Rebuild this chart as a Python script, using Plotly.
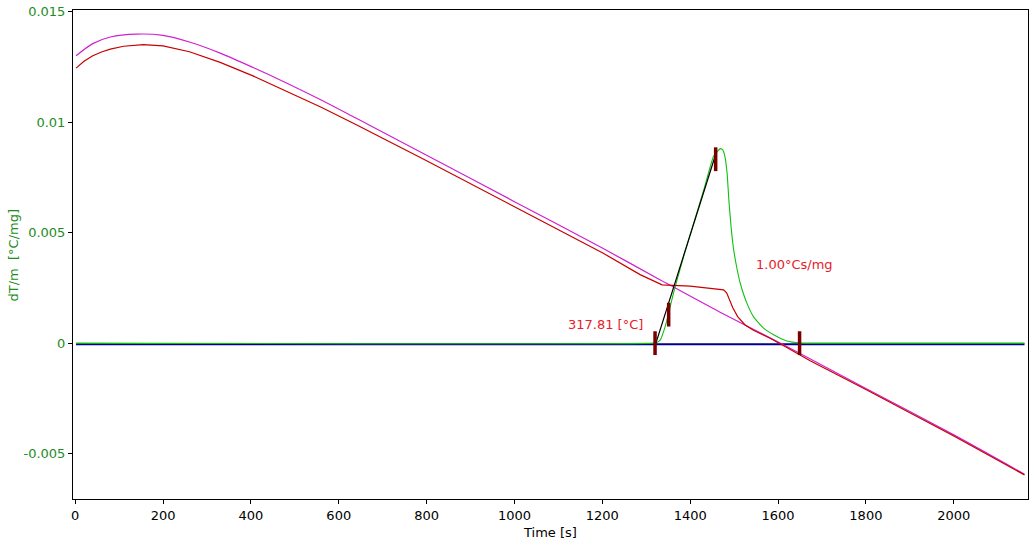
import plotly.graph_objects as go

# ---- data ----
ref_t = [2, 40, 80, 140, 200, 260, 330, 406, 482, 560, 640, 800, 1000, 1200, 1332, 1468, 1620, 1800, 2000, 2161]
ref_v = [0.01300, 0.01355, 0.01385, 0.01398, 0.01392, 0.01362, 0.01312, 0.01246, 0.01176, 0.01100,
         0.01017, 0.00850, 0.00640, 0.00430, 0.00286, 0.00140, -0.00015, -0.00205, -0.00415, -0.00593]

meas_t = [2, 20, 40, 60, 80, 110, 155, 200, 260, 330, 406, 482, 560, 640, 800, 1000, 1200, 1286, 1336,
          1400, 1476, 1483, 1490, 1497, 1508, 1525, 1544, 1582, 1620, 1673, 1800, 2000, 2161]
meas_v = [0.01244, 0.01275, 0.01300, 0.01317, 0.01330, 0.01343, 0.01350, 0.01345, 0.01318, 0.01270,
          0.01208, 0.01140, 0.01067, 0.00988, 0.00825, 0.00617, 0.00409, 0.00310, 0.00264,
          0.00258, 0.00241, 0.00228, 0.00196, 0.00160, 0.00120, 0.00082, 0.00058, 0.00022,
          -0.00020, -0.00080, -0.00210, -0.00420, -0.00596]

peak_t = [2, 1316, 1324, 1332, 1343, 1351, 1362, 1385, 1408, 1431, 1453, 1462, 1469, 1474, 1479, 1484,
          1488, 1493, 1499, 1507, 1514, 1529, 1544, 1567, 1590, 1620, 1651, 1700, 2161]
peak_v = [0, 0, 0.00003, 0.00015, 0.00075, 0.00136, 0.00226, 0.00392, 0.00543, 0.00694, 0.00844,
          0.00868, 0.00880, 0.00874, 0.00845, 0.00769, 0.00648, 0.00528, 0.00422, 0.00332, 0.00271,
          0.00181, 0.00120, 0.00068, 0.00038, 0.00010, 0.00001, 0, 0]

base_t = [2, 2161]
base_v = [-0.00005, -0.00005]

tangent_t = [1322, 1459]
tangent_v = [0.0, 0.0086]

mark_t = [1320, 1351, 1458, 1649]
mark_v = [0.0, 0.00129, 0.00832, 0.0]

x_ticks = [0, 200, 400, 600, 800, 1000, 1200, 1400, 1600, 1800, 2000]
y_ticks = [-0.005, 0, 0.005, 0.01, 0.015]
y_tick_text = ["-0.005", "0", "0.005", "0.01", "0.015"]

onset_label = "317.81 [°C]"
area_label = "1.00°Cs/mg"

FONT = "DejaVu Sans"
fig = go.Figure()

fig.add_trace(go.Scatter(x=base_t, y=base_v, mode="lines",
                         line=dict(color="#00008B", width=2), hoverinfo="skip"))
fig.add_trace(go.Scatter(x=peak_t, y=peak_v, mode="lines",
                         line=dict(color="#10C010", width=1.1, shape="spline", smoothing=0.5)))
fig.add_trace(go.Scatter(x=ref_t, y=ref_v, mode="lines",
                         line=dict(color="#D020D0", width=1.2, shape="spline", smoothing=0.8)))
fig.add_trace(go.Scatter(x=meas_t, y=meas_v, mode="lines",
                         line=dict(color="#C80000", width=1.2)))
fig.add_trace(go.Scatter(x=tangent_t, y=tangent_v, mode="lines",
                         line=dict(color="black", width=1.2)))
fig.add_trace(go.Scatter(x=mark_t, y=mark_v, mode="markers",
                         marker=dict(symbol="line-ns", size=17,
                                     line=dict(width=3.5, color="#7A0000"))))

fig.add_annotation(x=1298, y=0.00083, text=onset_label, showarrow=False,
                   xanchor="right", yanchor="middle",
                   font=dict(family=FONT, size=13, color="#E8202A"))
fig.add_annotation(x=1546, y=0.00354, text=area_label, showarrow=False,
                   xanchor="left", yanchor="middle",
                   font=dict(family=FONT, size=13, color="#E8202A"))
fig.add_annotation(x=-0.0618, y=0.5, xref="paper", yref="paper", text="dT/m  [°C/mg]",
                   textangle=-90, showarrow=False, xanchor="center", yanchor="middle",
                   font=dict(family=FONT, size=13, color="#1E8C1E"))
fig.add_annotation(x=0.4995, y=-0.068, xref="paper", yref="paper", text="Time [s]",
                   showarrow=False, xanchor="center", yanchor="middle",
                   font=dict(family=FONT, size=13, color="black"))

fig.update_layout(
    width=1032, height=544,
    margin=dict(l=73, r=4, t=10, b=45, autoexpand=False),
    paper_bgcolor="white", plot_bgcolor="white",
    showlegend=False,
    font=dict(family=FONT, size=13, color="black"),
    xaxis=dict(range=[-5, 2169], tickvals=x_ticks, showgrid=False, zeroline=False,
               showline=True, linecolor="black", linewidth=1, mirror=True,
               ticks="outside", ticklen=4, tickcolor="black", automargin=False,
               tickfont=dict(family=FONT, size=13, color="black")),
    yaxis=dict(range=[-0.00705, 0.01507], tickvals=y_ticks, ticktext=y_tick_text,
               showgrid=False, zeroline=False, automargin=False,
               showline=True, linecolor="black", linewidth=1, mirror=True,
               ticks="outside", ticklen=4, tickcolor="black",
               tickfont=dict(family=FONT, size=13, color="#1E8C1E")),
)

fig.write_html("out.html", config={"displayModeBar": False},
               post_script="document.body.style.margin='0';document.body.style.overflow='hidden';")
